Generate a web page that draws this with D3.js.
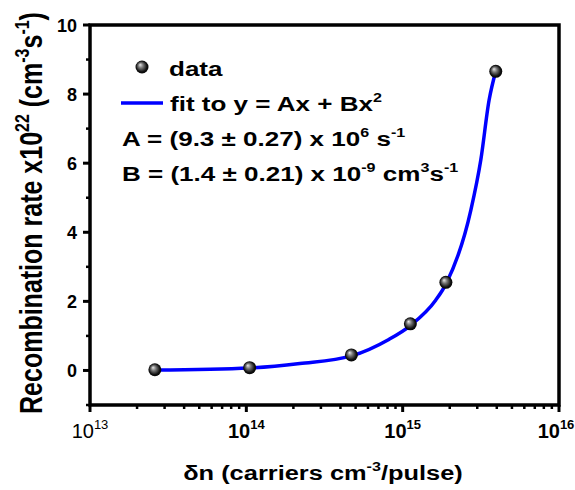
<!DOCTYPE html>
<html>
<head>
<meta charset="utf-8">
<script src="https://cdn.jsdelivr.net/npm/d3@7"></script>
<style>
  body { margin: 0; background: #fff; }
  text { font-family: "Liberation Sans", Arial, sans-serif; font-weight: bold; fill: #000; }
</style>
</head>
<body>
<div id="chart"></div>
<script>
// measured points: carrier density (cm^-3/pulse) and rate (x1e22 cm^-3 s^-1)
const dnData   = [2.6e13, 1.05e14, 4.7e14, 1.12e15, 1.89e15, 3.94e15];
const rateData = [0.02, 0.08, 0.45, 1.35, 2.55, 8.66];

// fitted curve, sampled along its length
const fitDn   = [2.6e13, 1.05e14, 2.2e14, 4.7e14, 8.1e14, 1.12e15, 1.63e15, 1.89e15, 2.73e15, 3.16e15, 3.57e15, 3.94e15];
const fitRate = [0.01, 0.07, 0.2, 0.42, 0.89, 1.3, 2.04, 2.5, 4.64, 6.09, 7.82, 8.66];

const xTicks = [1e13, 1e14, 1e15, 1e16];
const xTickExp = ['13', '14', '15', '16'];
const yTicks = [0, 2, 4, 6, 8, 10];
const yMinor = [-1, 1, 3, 5, 7, 9];

const W = 575, H = 490;
const pad = { left: 90, right: 16, top: 25, bottom: 85 };
const WIDE = 1.24;   // horizontal stretch used for titles and legend text

let svg = d3.select('#chart').append('svg').attr('width', W).attr('height', H);
svg.append('rect').attr('width', W).attr('height', H).attr('fill', '#fff');

let x = d3.scaleLog().domain([1e13, 1e16]).range([pad.left, W - pad.right]);
let y = d3.scaleLinear().domain([-1, 10]).range([H - pad.bottom, pad.top]);

// shaded sphere marker
let grad = svg.append('defs').append('radialGradient').attr('id', 'ball')
  .attr('cx', '50%').attr('cy', '50%').attr('r', '55%').attr('fx', '35%').attr('fy', '32%');
grad.append('stop').attr('offset', '0%').attr('stop-color', '#e8e8e8');
grad.append('stop').attr('offset', '35%').attr('stop-color', '#777');
grad.append('stop').attr('offset', '75%').attr('stop-color', '#111');
grad.append('stop').attr('offset', '100%').attr('stop-color', '#000');

// x axis: major decades + minor 2..9
let minorX = [];
for (let d = 13; d < 16; ++d)
  for (let k = 2; k <= 9; ++k) minorX.push(k * Math.pow(10, d));

let xAxis = svg.append('g').attr('transform', 'translate(0,' + y(-1) + ')');
xAxis.selectAll('line.maj').data(xTicks).enter().append('line')
  .attr('x1', d => x(d)).attr('x2', d => x(d)).attr('y1', 0).attr('y2', 7)
  .attr('stroke', '#000').attr('stroke-width', 3);
xAxis.selectAll('line.min').data(minorX).enter().append('line')
  .attr('x1', d => x(d)).attr('x2', d => x(d)).attr('y1', 0).attr('y2', 4)
  .attr('stroke', '#000').attr('stroke-width', 2.5);
// last label sits against the right edge, so nudge it inward
xAxis.selectAll('text').data(xTicks).enter().append('text')
  .attr('x', (d, i) => x(d) - (i == xTicks.length - 1 ? 3 : 0)).attr('y', 33)
  .attr('text-anchor', 'middle')
  .style('font-size', '20px')
  .style('font-weight', (d, i) => i == 0 ? 'normal' : 'bold')
  .each(function(d, i) {
    let t = d3.select(this);
    t.append('tspan').text('10');
    t.append('tspan').attr('dy', -9).style('font-size', '13px').text(xTickExp[i]);
  });

// y axis: major even values + minor odd values
let yAxis = svg.append('g').attr('transform', 'translate(' + x(1e13) + ',0)');
yAxis.selectAll('line.maj').data(yTicks).enter().append('line')
  .attr('x1', -7).attr('x2', 0).attr('y1', d => y(d)).attr('y2', d => y(d))
  .attr('stroke', '#000').attr('stroke-width', 3);
yAxis.selectAll('line.min').data(yMinor).enter().append('line')
  .attr('x1', -4).attr('x2', 0).attr('y1', d => y(d)).attr('y2', d => y(d))
  .attr('stroke', '#000').attr('stroke-width', 2.5);
yAxis.selectAll('text').data(yTicks).enter().append('text')
  .attr('x', -13).attr('y', d => y(d) + 6.5).attr('text-anchor', 'end')
  .style('font-size', '18px').text(d => d);

// frame
svg.append('rect')
  .attr('x', x(1e13)).attr('y', y(10))
  .attr('width', x(1e16) - x(1e13)).attr('height', y(-1) - y(10))
  .attr('fill', 'none').attr('stroke', '#000').attr('stroke-width', 3.5);

// fit curve
let fitPts = fitDn.map((d, i) => [x(d), y(fitRate[i])]);
svg.append('path')
  .attr('d', d3.line().curve(d3.curveMonotoneX)(fitPts))
  .attr('fill', 'none').attr('stroke', '#0000ff').attr('stroke-width', 3.5);

// data points
svg.append('g').selectAll('circle').data(dnData).enter().append('circle')
  .attr('cx', d => x(d)).attr('cy', (d, i) => y(rateData[i])).attr('r', 6.5)
  .attr('fill', 'url(#ball)');

// text with superscripts; parts are [string, isSup]
function richText(parent, tx, ty, parts, size, supSize, rot) {
  let g = parent.append('g').attr('transform',
    'translate(' + tx + ',' + ty + ')' + (rot ? ' rotate(-90) scale(1,' + WIDE + ')' : ' scale(' + WIDE + ',1)'));
  let t = g.append('text').style('font-size', size + 'px');
  let up = false;
  parts.forEach(p => {
    let s = t.append('tspan').text(p[0]);
    if (p[1]) {
      s.style('font-size', supSize + 'px');
      if (!up) { s.attr('dy', -size * 0.42); up = true; }
    } else if (up) { s.attr('dy', size * 0.42); up = false; }
  });
  return t;
}

// legend and fit parameters
let leg = svg.append('g');
leg.append('circle').attr('cx', 142).attr('cy', 67).attr('r', 6.5).attr('fill', 'url(#ball)');
leg.append('line').attr('x1', 121).attr('x2', 163).attr('y1', 103).attr('y2', 103)
  .attr('stroke', '#0000ff').attr('stroke-width', 3.5);
richText(leg, 169, 76, [['data']], 21, 13);
richText(leg, 170, 111, [['fit to y = Ax + Bx'], ['2', true]], 21, 13);
richText(leg, 122, 146, [['A = (9.3 \u00b1 0.27) x 10'], ['6', true], [' s'], ['-1', true]], 21, 13);
richText(leg, 122, 181, [['B = (1.4 \u00b1 0.21) x 10'], ['-9', true], [' cm'], ['3', true], ['s'], ['-1', true]], 21, 13);

// axis titles
richText(svg, 323, 480, [['\u03b4n (carriers cm'], ['-3', true], ['/pulse)']], 20.5, 13)
  .attr('text-anchor', 'middle');
richText(svg, 42, 213, [['Recombination rate x10'], ['22', true], [' (cm'], ['-3', true], ['s'], ['-1', true], [')']], 25, 16, true)
  .attr('text-anchor', 'middle');
</script>
</body>
</html>
